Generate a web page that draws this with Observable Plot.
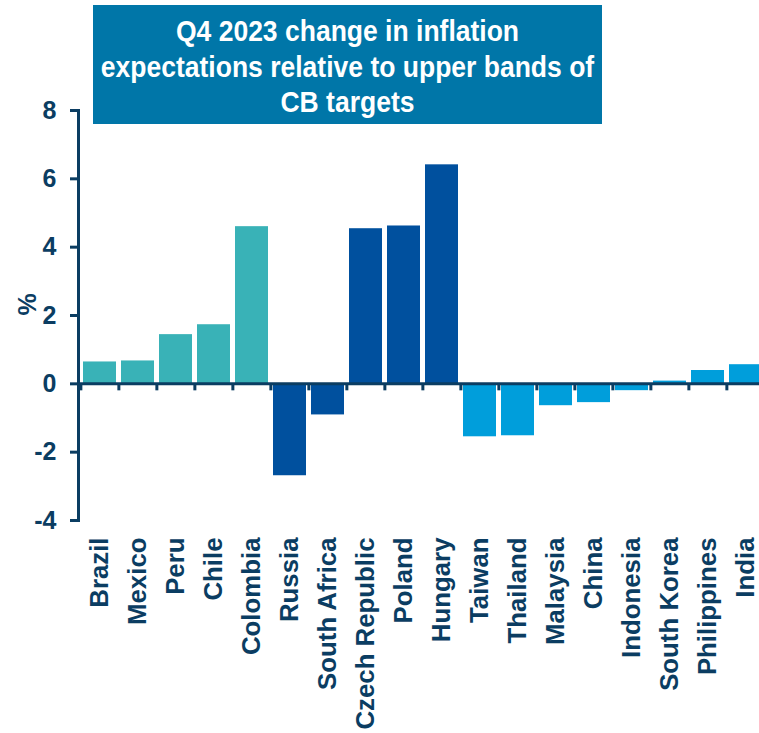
<!DOCTYPE html>
<html>
<head>
<meta charset="utf-8">
<script src="https://cdn.jsdelivr.net/npm/d3@7"></script>
<script src="https://cdn.jsdelivr.net/npm/@observablehq/plot@0.6"></script>
<style>
  html, body { margin: 0; padding: 0; background: white; overflow: hidden; }
  #wrap { position: relative; width: 759px; height: 733px; overflow: hidden; }
  #title {
    position: absolute; left: 93px; top: 5px; width: 509px; height: 119px;
    background: #0076A8; color: white; box-sizing: border-box;
    font-family: "Liberation Sans", Arial, sans-serif; font-weight: bold;
    font-size: 26.5px; text-align: center; white-space: nowrap;
    z-index: 2; display: flex; align-items: center; justify-content: center;
  }
  #title span { display: block; line-height: 32.9px; transform: scaleY(1.08); margin-top: 5px; }
</style>
</head>
<body>
<div id="wrap">
  <div id="title"><span>Q4 2023 change in inflation<br>expectations relative to upper bands of<br>CB targets</span></div>
  <div id="chart"></div>
</div>
<script>
const countries = ["Brazil", "Mexico", "Peru", "Chile", "Colombia", "Russia", "South Africa", "Czech Republic", "Poland", "Hungary", "Taiwan", "Thailand", "Malaysia", "China", "Indonesia", "South Korea", "Philippines", "India"];
const values = [0.64, 0.67, 1.44, 1.73, 4.60, -2.69, -0.91, 4.54, 4.62, 6.41, -1.55, -1.52, -0.64, -0.55, -0.20, 0.08, 0.39, 0.56];
const regions = ["LatAm", "LatAm", "LatAm", "LatAm", "LatAm", "EMEA", "EMEA", "EMEA", "EMEA", "EMEA", "Asia", "Asia", "Asia", "Asia", "Asia", "Asia", "Asia", "Asia"];
const regionNames = ["LatAm", "EMEA", "Asia"];
const regionColors = ["#39B2B7", "#00509E", "#009EDB"];
const yTicks = [-4, -2, 0, 2, 4, 6, 8];

const data = countries.map((c, i) => ({country: c, value: values[i], region: regions[i]}));

const navy = "#0B3D62";
const xRange = [78, 767];
const step = (xRange[1] - xRange[0]) / countries.length;

const chart = Plot.plot({
  width: 759,
  height: 733,
  marginTop: 110,
  marginBottom: 213,
  marginLeft: 78,
  marginRight: 0,
  style: {fontFamily: "'Liberation Sans', Arial, sans-serif", fontWeight: "bold", color: navy, background: "white"},
  x: {domain: countries, range: xRange, paddingInner: 0.14, paddingOuter: 0.07},
  y: {domain: [-4, 8]},
  color: {domain: regionNames, range: regionColors},
  marks: [
    Plot.barY(data, {x: "country", y: "value", fill: "region"}),
    Plot.ruleY([0], {stroke: navy, strokeWidth: 3}),
    Plot.ruleX(countries, {x: d => d, y1: 0, y2: 0, insetBottom: -7, dx: -step / 2, stroke: navy, strokeWidth: 3}),
    Plot.frame({anchor: "left", stroke: navy, strokeWidth: 3}),
    Plot.axisY({ticks: yTicks, tickSize: 8, tickPadding: 14, fontSize: 25, strokeWidth: 3, stroke: navy, tickFormat: d => String(d), label: null}),
    Plot.axisX({tickRotate: -90, tickSize: 0, tickPadding: 17, fontSize: 25.8, label: null}),
    Plot.text(["%"], {frameAnchor: "left", dx: -51, rotate: -90, fontSize: 25, fill: navy})
  ]
});
document.getElementById("chart").appendChild(chart);
</script>
</body>
</html>
